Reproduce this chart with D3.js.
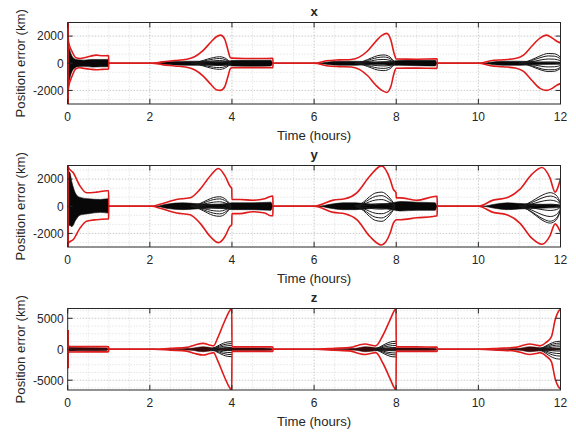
<!DOCTYPE html>
<html><head><meta charset="utf-8">
<script src="https://cdn.jsdelivr.net/npm/d3@7"></script>
<style>
html,body{margin:0;padding:0;background:#fff;}
svg text{font-family:"Liberation Sans",Arial,Helvetica,sans-serif;fill:#262626;}
</style></head>
<body><svg id="chart" width="576" height="432"></svg>
<script>
// ---------------- DATA ----------------
const panelTitles = ["x", "y", "z"];
const timeTicks = [0, 2, 4, 6, 8, 10, 12];
const xTicks = [-2000, 0, 2000];
const yTicks = [-2000, 0, 2000];
const zTicks = [-5000, 0, 5000];
const xDomain = [-3000, 3000];
const yDomain = [-3000, 3000];
const zDomain = [-6580, 6580];

// red envelope (upper / lower), x component
const xRedT  = [0, 0.02, 0.1, 0.2, 0.3, 0.4, 0.55, 0.7, 0.85, 0.98, 0.995, 1.0, 2.05, 2.3, 2.6, 2.9, 3.1, 3.3, 3.5, 3.62, 3.72, 3.82, 3.9, 3.96, 4.0, 4.3, 4.7, 4.98, 4.995, 5.0, 6.0, 6.3, 6.6, 6.9, 7.1, 7.3, 7.5, 7.65, 7.77, 7.87, 7.95, 8.0, 8.5, 8.98, 8.995, 9.0, 10.0, 10.3, 10.6, 10.9, 11.1, 11.3, 11.5, 11.66, 11.8, 11.92, 12.0];
const xRedUp = [3000, 1600, 900, 400, 350, 400, 520, 600, 550, 560, 540, 0, 0, 100, 200, 300, 500, 950, 1600, 1950, 2070, 1800, 1000, 420, 380, 350, 350, 360, 360, 0, 0, 180, 250, 280, 450, 900, 1600, 2050, 2200, 1700, 700, 320, 300, 320, 320, 0, 0, 180, 260, 350, 600, 1250, 1850, 2070, 1850, 1600, 1500];
const xRedLo = [-3000, -1800, -1000, -400, -330, -380, -440, -480, -450, -440, -420, 0, 0, -100, -200, -300, -500, -950, -1600, -1950, -2000, -1750, -1000, -400, -330, -320, -320, -330, -330, 0, 0, -180, -250, -280, -450, -900, -1600, -2000, -2150, -1700, -700, -370, -360, -380, -380, 0, 0, -180, -260, -350, -600, -1250, -1850, -2000, -1850, -1600, -1500];

// black noise band, x component
const xBandT  = [0, 0.03, 0.08, 0.15, 0.25, 0.4, 0.6, 0.8, 0.98, 1.0, 2.15, 2.3, 2.6, 2.9, 3.2, 3.6, 3.9, 4.0, 4.5, 4.95, 5.0, 6.1, 6.3, 6.6, 7.0, 7.5, 7.9, 8.05, 8.5, 8.95, 9.0, 10.1, 10.3, 10.6, 11.0, 11.5, 12.0];
const xBandUp = [1600, 1200, 700, 350, 250, 230, 280, 280, 280, 0, 0, 60, 120, 150, 150, 130, 150, 200, 220, 220, 0, 0, 80, 150, 150, 100, 150, 200, 220, 220, 0, 0, 80, 150, 150, 100, 80];
const xBandLo = [-1800, -1400, -800, -400, -250, -230, -280, -260, -260, 0, 0, -60, -120, -150, -150, -130, -150, -200, -220, -200, 0, 0, -80, -150, -150, -100, -150, -150, -180, -200, 0, 0, -80, -150, -150, -100, -80];

// fan of black trajectories, x component
const xFanAT = [3.0, 3.2, 3.4, 3.55, 3.7, 3.85, 3.97];
const xFanA = [
  [0, 120, 300, 420, 480, 350, 40],
  [0, 90, 220, 310, 350, 250, 30],
  [0, 50, 130, 180, 200, 150, 20],
  [0, 10, 30, 40, 50, 40, 5],
  [0, -40, -110, -150, -170, -120, -15],
  [0, -80, -210, -290, -320, -230, -30],
  [0, -110, -290, -400, -450, -330, -40]];
const xFanBT = [7.0, 7.2, 7.4, 7.55, 7.7, 7.85, 7.97];
const xFanB = [
  [0, 150, 400, 560, 610, 450, 60],
  [0, 110, 300, 420, 460, 340, 45],
  [0, 70, 180, 260, 280, 210, 30],
  [0, 20, 60, 80, 90, 70, 10],
  [0, -50, -130, -180, -200, -150, -20],
  [0, -90, -250, -350, -380, -280, -40],
  [0, -130, -350, -500, -540, -400, -50]];
const xFanCT = [11.0, 11.2, 11.4, 11.55, 11.7, 11.85, 12.0];
const xFanC = [
  [0, 150, 400, 600, 720, 700, 450],
  [0, 110, 300, 450, 540, 520, 330],
  [0, 60, 170, 260, 310, 300, 190],
  [0, 15, 50, 70, 80, 80, 50],
  [0, -60, -150, -230, -270, -260, -170],
  [0, -100, -280, -420, -480, -470, -300],
  [0, -130, -360, -520, -610, -590, -380]];

// red envelope, y component
const yRedT  = [0, 0.02, 0.13, 0.3, 0.46, 0.7, 0.95, 0.995, 1.0, 2.05, 2.25, 2.65, 2.98, 3.22, 3.47, 3.67, 3.83, 3.95, 3.995, 4.0, 4.2, 4.5, 4.8, 4.95, 4.995, 5.0, 6.0, 6.47, 6.75, 7.04, 7.36, 7.64, 7.85, 7.93, 7.995, 8.0, 8.1, 8.5, 8.9, 8.995, 9.0, 10.0, 10.36, 10.69, 11.01, 11.3, 11.55, 11.74, 11.87, 11.95, 12.0];
const yRedUp = [3000, 2850, 2480, 1490, 990, 1040, 1140, 1140, 0, 0, 150, 500, 620, 1240, 2230, 2780, 2230, 1490, 1300, 500, 500, 440, 550, 740, 750, 0, 0, 450, 550, 990, 2230, 2970, 1990, 1240, 1000, 620, 620, 440, 700, 740, 0, 0, 450, 620, 1240, 2350, 2850, 2110, 1040, 1500, 2050];
const yRedLo = [-3000, -2700, -2470, -1610, -1110, -990, -940, -940, 0, 0, -150, -500, -620, -1240, -2230, -2680, -2230, -1490, -1350, -540, -540, -400, -500, -700, -700, 0, 0, -450, -550, -990, -2230, -2850, -1990, -1240, -1000, -990, -990, -850, -750, -700, 0, 0, -450, -620, -1240, -2350, -2800, -2200, -1300, -1600, -1900];

// black noise band, y component
const yBandT  = [0, 0.05, 0.1, 0.2, 0.3, 0.5, 0.8, 0.98, 1.0, 2.15, 2.4, 2.8, 3.1, 3.5, 3.9, 4.0, 4.5, 4.95, 5.0, 6.1, 6.4, 6.7, 7.0, 7.5, 7.9, 8.1, 8.5, 8.95, 9.0, 10.1, 10.4, 10.7, 11.0, 11.5, 12.0];
const yBandUp = [2600, 2500, 1800, 900, 650, 550, 500, 550, 0, 0, 150, 250, 200, 150, 200, 250, 250, 300, 0, 0, 150, 250, 250, 150, 250, 350, 300, 250, 0, 0, 150, 250, 200, 150, 100];
const yBandLo = [-1600, -1400, -1500, -1000, -650, -550, -450, -500, 0, 0, -150, -250, -200, -150, -200, -250, -250, -300, 0, 0, -150, -250, -250, -150, -250, -350, -300, -300, 0, 0, -150, -250, -200, -150, -100];

// fan of black trajectories, y component
const yFanAT = [3.0, 3.2, 3.4, 3.55, 3.7, 3.85, 3.98];
const yFanA = [
  [0, 170, 460, 640, 700, 500, 60],
  [0, 130, 350, 490, 540, 380, 45],
  [0, 80, 220, 300, 330, 230, 30],
  [0, 30, 80, 110, 120, 85, 10],
  [0, -30, -80, -110, -120, -85, -10],
  [0, -90, -240, -330, -360, -250, -30],
  [0, -140, -370, -510, -560, -400, -45],
  [0, -180, -490, -680, -740, -530, -60]];
const yFanBT = [7.0, 7.2, 7.35, 7.5, 7.65, 7.8, 7.97];
const yFanB = [
  [0, 300, 700, 980, 1040, 750, 80],
  [0, 220, 520, 730, 780, 560, 60],
  [0, 140, 330, 460, 490, 350, 40],
  [0, 50, 120, 170, 180, 130, 15],
  [0, -60, -140, -200, -210, -150, -15],
  [0, -160, -370, -520, -550, -400, -45],
  [0, -250, -580, -810, -860, -620, -70],
  [0, -320, -750, -1050, -1110, -800, -90]];
const yFanCT = [11.0, 11.2, 11.4, 11.6, 11.75, 11.9, 12.0];
const yFanC = [
  [0, 200, 550, 880, 1000, 800, 250],
  [0, 150, 410, 660, 750, 600, 180],
  [0, 90, 250, 400, 450, 360, 110],
  [0, 30, 80, 130, 150, 120, 40],
  [0, -60, -170, -270, -310, -250, -80],
  [0, -150, -420, -670, -760, -610, -190],
  [0, -220, -610, -970, -1100, -880, -270],
  [0, -250, -690, -1100, -1240, -1000, -300]];

// red envelope, z component
const zRedT  = [0, 0.005, 0.05, 0.5, 0.95, 0.995, 1.0, 2.1, 2.5, 2.9, 3.1, 3.3, 3.45, 3.55, 3.65, 3.8, 3.95, 3.995, 4.0, 4.5, 4.95, 4.995, 5.0, 6.0, 6.5, 6.9, 7.1, 7.25, 7.4, 7.5, 7.68, 7.85, 7.95, 7.995, 8.0, 8.5, 8.95, 8.995, 9.0, 10.0, 10.5, 10.9, 11.1, 11.25, 11.4, 11.5, 11.65, 11.78, 11.87, 11.95, 12.0];
const zRedUp = [3100, 700, 450, 420, 420, 380, 0, 0, 150, 300, 700, 950, 700, 550, 1800, 4200, 6270, 6580, 380, 380, 380, 350, 0, 0, 150, 300, 700, 850, 650, 550, 2300, 4750, 6200, 6580, 380, 380, 350, 350, 0, 0, 150, 300, 650, 850, 700, 550, 1100, 2050, 4750, 6100, 6500];
const zRedLo = [-3080, -700, -450, -420, -420, -380, 0, 0, -150, -300, -700, -930, -700, -550, -1800, -4200, -6270, -6580, -350, -350, -350, -350, 0, 0, -150, -300, -700, -850, -650, -550, -2300, -4750, -6200, -6580, -350, -350, -350, -350, 0, 0, -150, -300, -650, -850, -700, -550, -1100, -2050, -4750, -6050, -6400];

// black noise band, z component
const zBandT  = [0, 0.1, 0.5, 0.95, 1.0, 2.2, 2.6, 3.0, 3.3, 3.5, 3.7, 4.0, 4.5, 4.95, 5.0, 6.1, 6.6, 7.0, 7.25, 7.5, 7.8, 8.0, 8.5, 8.95, 9.0, 10.1, 10.6, 11.0, 11.25, 11.5, 12.0];
const zBandUp = [350, 280, 250, 200, 0, 0, 60, 150, 400, 250, 150, 220, 220, 180, 0, 0, 60, 150, 400, 250, 150, 220, 220, 180, 0, 0, 60, 150, 400, 250, 120];
const zBandLo = [-350, -280, -250, -200, 0, 0, -60, -150, -400, -250, -150, -220, -220, -180, 0, 0, -60, -150, -400, -250, -150, -220, -220, -180, 0, 0, -60, -150, -400, -250, -120];

// fan of black trajectories, z component
const zFanAT = [3.45, 3.6, 3.7, 3.8, 3.9, 4.0];
const zFanA = [
  [0, 350, 700, 1000, 1180, 1230],
  [0, 260, 520, 740, 870, 910],
  [0, 170, 340, 480, 570, 600],
  [0, 80, 170, 240, 280, 300],
  [0, 20, 40, 60, 70, 80],
  [0, -60, -120, -180, -210, -220],
  [0, -150, -310, -440, -520, -550],
  [0, -240, -490, -700, -830, -870],
  [0, -330, -680, -970, -1150, -1200]];
const zFanBT = [7.45, 7.6, 7.7, 7.8, 7.9, 8.0];
const zFanB = [
  [0, 370, 740, 1050, 1240, 1300],
  [0, 270, 540, 770, 910, 950],
  [0, 170, 340, 490, 580, 610],
  [0, 80, 160, 230, 270, 290],
  [0, 10, 20, 30, 40, 50],
  [0, -70, -140, -200, -240, -250],
  [0, -170, -340, -490, -580, -610],
  [0, -260, -520, -740, -870, -920],
  [0, -360, -720, -1020, -1200, -1250]];
const zFanCT = [11.45, 11.6, 11.7, 11.8, 11.9, 12.0];
const zFanC = [
  [0, 370, 740, 1050, 1240, 1300],
  [0, 290, 570, 810, 950, 1000],
  [0, 200, 400, 570, 670, 700],
  [0, 110, 230, 320, 380, 400],
  [0, 30, 60, 80, 95, 100],
  [0, -90, -170, -240, -290, -300],
  [0, -200, -400, -570, -670, -700],
  [0, -320, -630, -900, -1050, -1100],
  [0, -460, -920, -1300, -1530, -1600]];

// ---------------- DRAW ----------------
const panels = [
  {title: panelTitles[0], ticks: xTicks, domain: xDomain, minorStep: 2000/3,
   redT: xRedT, redUp: xRedUp, redLo: xRedLo, bandT: xBandT, bandUp: xBandUp, bandLo: xBandLo,
   fans: [[xFanAT, xFanA], [xFanBT, xFanB], [xFanCT, xFanC]], bandColor: "#080808"},
  {title: panelTitles[1], ticks: yTicks, domain: yDomain, minorStep: 2000/3,
   redT: yRedT, redUp: yRedUp, redLo: yRedLo, bandT: yBandT, bandUp: yBandUp, bandLo: yBandLo,
   fans: [[yFanAT, yFanA], [yFanBT, yFanB], [yFanCT, yFanC]], bandColor: "#080808"},
  {title: panelTitles[2], ticks: zTicks, domain: zDomain, minorStep: 1250,
   redT: zRedT, redUp: zRedUp, redLo: zRedLo, bandT: zBandT, bandUp: zBandUp, bandLo: zBandLo,
   fans: [[zFanAT, zFanA], [zFanBT, zFanB], [zFanCT, zFanC]], bandColor: "#3a0a0a"}
];

const svg = d3.select("#chart");
const left = 67.7, right = 560.5, plotH = 81.5;
const tops = [22.5, 165.5, 308.5];
const x = d3.scaleLinear().domain([0, 12]).range([left, right]);
const axisColor = "#262626";

panels.forEach((p, i) => {
  const top = tops[i], bottom = top + plotH;
  const y = d3.scaleLinear().domain(p.domain).range([bottom, top]);
  const g = svg.append("g");
  const clipId = "clip" + i;
  svg.append("defs").append("clipPath").attr("id", clipId)
    .append("rect").attr("x", left).attr("y", top).attr("width", right - left).attr("height", plotH);

  // minor grid
  const minorX = d3.range(0, 12.001, 0.5).filter(v => Math.abs(v % 2) > 1e-6);
  g.selectAll(".mgx").data(minorX).enter().append("line")
    .attr("x1", d => x(d)).attr("x2", d => x(d)).attr("y1", top).attr("y2", bottom)
    .attr("stroke", "#d0d0d0").attr("stroke-width", 0.8).attr("stroke-dasharray", "1,2");
  const minorY = [];
  for (let v = -Math.floor(p.domain[1] / p.minorStep) * p.minorStep; v <= p.domain[1]; v += p.minorStep) {
    if (!p.ticks.some(t => Math.abs(t - v) < 1)) minorY.push(v);
  }
  g.selectAll(".mgy").data(minorY).enter().append("line")
    .attr("x1", left).attr("x2", right).attr("y1", d => y(d)).attr("y2", d => y(d))
    .attr("stroke", "#d0d0d0").attr("stroke-width", 0.8).attr("stroke-dasharray", "1,2");
  // major grid
  g.selectAll(".gx").data(timeTicks.slice(1, -1)).enter().append("line")
    .attr("x1", d => x(d)).attr("x2", d => x(d)).attr("y1", top).attr("y2", bottom)
    .attr("stroke", "#bdbdbd").attr("stroke-width", 0.8).attr("stroke-dasharray", "1.5,1.5");
  g.selectAll(".gy").data(p.ticks).enter().append("line")
    .attr("x1", left).attr("x2", right).attr("y1", d => y(d)).attr("y2", d => y(d))
    .attr("stroke", "#bdbdbd").attr("stroke-width", 0.8).attr("stroke-dasharray", "1.5,1.5");

  const plot = g.append("g").attr("clip-path", `url(#${clipId})`);

  // black noise band
  const band = p.bandT.map((t, k) => ({t, up: p.bandUp[k], lo: p.bandLo[k]}));
  plot.append("path").datum(band)
    .attr("d", d3.area().x(d => x(d.t)).y0(d => y(d.lo)).y1(d => y(d.up)).curve(d3.curveMonotoneX))
    .attr("fill", p.bandColor).attr("stroke", p.bandColor).attr("stroke-width", 0.6);

  // fan trajectories
  const ln = d3.line().x(d => x(d[0])).y(d => y(d[1])).curve(d3.curveMonotoneX);
  p.fans.forEach(([ft, lines]) => {
    lines.forEach(vals => {
      plot.append("path").datum(ft.map((t, k) => [t, vals[k]]))
        .attr("d", ln).attr("fill", "none").attr("stroke", "#1a1a1a").attr("stroke-width", 1);
    });
  });

  // red envelope
  const redUp = p.redT.map((t, k) => [t, p.redUp[k]]);
  const redLo = p.redT.map((t, k) => [t, p.redLo[k]]);
  [redUp, redLo].forEach(dd => {
    plot.append("path").datum(dd).attr("d", ln).attr("fill", "none")
      .attr("stroke", "#e01b1b").attr("stroke-width", 1.6);
  });
  // initial covariance at t=0 (vertical)
  plot.append("line").attr("x1", x(0) + 0.5).attr("x2", x(0) + 0.5)
    .attr("y1", y(p.redUp[0])).attr("y2", y(p.redLo[0]))
    .attr("stroke", "#e01b1b").attr("stroke-width", 1.6);

  // box
  g.append("rect").attr("x", left).attr("y", top).attr("width", right - left).attr("height", plotH)
    .attr("fill", "none").attr("stroke", axisColor).attr("stroke-width", 1);

  // x ticks (inside, bottom and top)
  timeTicks.forEach(t => {
    g.append("line").attr("x1", x(t)).attr("x2", x(t)).attr("y1", bottom).attr("y2", bottom - 5).attr("stroke", axisColor);
    g.append("line").attr("x1", x(t)).attr("x2", x(t)).attr("y1", top).attr("y2", top + 5).attr("stroke", axisColor);
    g.append("text").attr("x", x(t)).attr("y", bottom + 17).attr("text-anchor", "middle")
      .attr("font-size", "12px").text(t);
  });
  // y ticks (inside, left and right)
  p.ticks.forEach(v => {
    g.append("line").attr("x1", left).attr("x2", left + 5).attr("y1", y(v)).attr("y2", y(v)).attr("stroke", axisColor);
    g.append("line").attr("x1", right).attr("x2", right - 5).attr("y1", y(v)).attr("y2", y(v)).attr("stroke", axisColor);
    g.append("text").attr("x", left - 4).attr("y", y(v) + 4.3).attr("text-anchor", "end")
      .attr("font-size", "12px").text(v);
  });

  // labels
  g.append("text").attr("x", (left + right) / 2).attr("y", bottom + 36).attr("text-anchor", "middle")
    .attr("font-size", "13.2px").text("Time (hours)");
  g.append("text").attr("transform", `translate(25,${(top + bottom) / 2}) rotate(-90)`)
    .attr("text-anchor", "middle").attr("font-size", "13.2px").text("Position error (km)");
  g.append("text").attr("x", (left + right) / 2).attr("y", top - 6.5).attr("text-anchor", "middle")
    .attr("font-size", "13.2px").attr("font-weight", "bold").text(p.title);
});
</script>
</body></html>
